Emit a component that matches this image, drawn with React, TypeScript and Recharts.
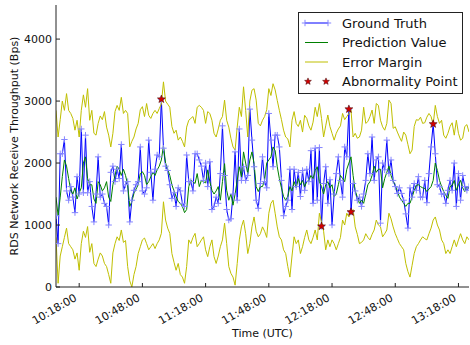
import React from "react";
import { ComposedChart, Line, XAxis, YAxis, Legend } from "recharts";

const FONT = "'DejaVu Sans', sans-serif";
const GT_COLOR = "#0000ff";
const GT_MARK = "#8585ff";
const PRED_COLOR = "#008000";
const MARGIN_COLOR = "#bfbf00";
const STAR_FILL = "#d40000";
const FRAME = "#222";

// one sample per minute starting here
const START_TIME = "10:07";
const X_TICKS = ["10:18:00", "10:48:00", "11:18:00", "11:48:00", "12:18:00", "12:48:00", "13:18:00"];
const Y_TICKS = [0, 1000, 2000, 3000, 4000];

const groundTruth = [
  1150, 700, 2150, 2150, 2380, 1550, 1400, 1620, 1450, 1200,
  1780, 1500, 2550, 1520, 2450, 1520, 1700, 1300, 1050, 1500,
  2100, 1450, 1500, 1350, 1300, 1000, 1850, 1950, 1700, 1900,
  1750, 2300, 1550, 1650, 1700, 1050, 1400, 1560, 1650, 1700,
  2260, 1550, 1500, 1600, 2370, 1850, 1400, 1900, 2130, 2100,
  3030, 2240, 1950, 1880, 1650, 1430, 1520, 1300, 1600, 1550,
  1350, 1300, 2130, 1700, 1700, 1550, 2150, 2150, 2050, 1950,
  1720, 2000, 1620, 2020, 1250, 1300, 1450, 1350, 1830, 2600,
  1800, 1250, 1080, 1100, 1500, 2180, 1400, 2550, 1720, 1940,
  1720, 1800, 2870, 2370, 1940, 1400, 1270, 1670, 2100, 1700,
  1600, 2800, 2370, 1940, 2450, 2450, 2260, 1720, 1150, 1300,
  1400, 1900, 1250, 1900, 1620, 1850, 1460, 1880, 1560, 1900,
  1700, 2200, 1350, 2240, 1400, 2250, 980, 1670, 1940, 1350,
  1730, 1000, 1500, 1830, 2100, 1720, 1450, 2260, 2100, 2870,
  1210, 1670, 1550, 1400, 1450, 1300, 1500, 1720, 2150, 1830,
  2420, 1720, 2050, 2100, 1030, 2000, 1890, 2370, 1830, 2050,
  1720, 1620, 1510, 1600, 1510, 1400, 1180, 950, 1600, 1450,
  1670, 1560, 1780, 1450, 1450, 1720, 1360, 1830, 2260, 2630,
  2150, 1650, 1620, 1500, 1500, 1350, 1560, 1720, 1560, 2000,
  1300, 1830, 1400, 1800, 1620, 1560, 1620,
];

const prediction = [
  1450, 1150, 1450, 1780, 2050, 1950, 1750, 1560, 1500, 1600,
  1420, 1520, 1600, 2000, 2100, 1750, 1650, 1650, 1420, 1350,
  1700, 1650, 1550, 1600, 1700, 1450, 1380, 1650, 1800, 1950,
  1900, 1800, 1900, 1800, 1650, 1300, 1380, 1510, 1580, 1650,
  1830, 1860, 1800, 1650, 1700, 1780, 1850, 1800, 1890, 1950,
  2050, 2280, 2000, 1900, 1800, 1650, 1550, 1460, 1380, 1350,
  1300, 1200, 1250, 1620, 1720, 1700, 1670, 1830, 1620, 1720,
  1700, 1680, 1890, 1700, 1560, 1500, 1550, 1620, 1400, 1700,
  1990, 1560, 1400, 1500, 1320, 1500, 1720, 1940, 1780, 2180,
  2000, 1830, 2050, 2180, 1990, 1620, 1540, 1620, 1620, 1725,
  2000, 2050, 2100, 2260, 2200, 1940, 1750, 1600, 1460, 1400,
  1460, 1620, 1550, 1700, 1600, 1750, 1650, 1720, 1620, 1700,
  1720, 1800, 1750, 1880, 1940, 1700, 1620, 1500, 1650, 1700,
  1600, 1650, 1460, 1500, 1650, 1800, 1750, 1700, 1900, 2000,
  2100, 1800, 1550, 1450, 1350, 1400, 1350, 1500, 1650, 1700,
  1800, 1950, 1850, 1900, 1900, 1600, 1750, 1850, 1950, 1800,
  1700, 1650, 1550, 1450, 1400, 1350, 1300, 1350, 1350, 1450,
  1560, 1640, 1650, 1620, 1600, 1590, 1540, 1580, 1620, 1720,
  2000, 1880, 1720, 1620, 1540, 1480, 1430, 1620, 1640, 1720,
  1560, 1650, 1720, 1600, 1540, 1620, 1590,
];

const upperMargin = [
  2850, 2420, 2700, 3000, 2850, 3120, 2850, 2800, 2720, 2530,
  2690, 2420, 2850, 3100, 2900, 3200, 2690, 2850, 2480, 2450,
  2640, 2760, 2700, 2830, 2580, 2450, 2260, 2480, 2830, 2930,
  2850, 3060, 2800, 2850, 2800, 2260, 2350, 2420, 2550, 2640,
  2860, 2910, 2750, 2960, 2770, 2720, 2800, 2850, 2800, 2880,
  2950, 3310, 3000, 2950, 2900, 2590, 2480, 2530, 2370, 2420,
  2350, 2260, 2580, 2690, 2720, 2750, 2640, 2900, 2930, 2900,
  2850, 2640, 2830, 2800, 2690, 2480, 2420, 2550, 2690, 2750,
  3015, 2690, 2580, 2400, 2260, 2210, 2580, 2900, 2750, 3230,
  2850, 2420, 3000, 3175, 3200, 3015, 2640, 2600, 2690, 2750,
  2860, 3200, 3090, 3280, 3180, 3010, 2850, 2700, 2530, 2420,
  2390, 2260, 2690, 2830, 2640, 2590, 2690, 2500, 2770, 2720,
  2600, 2530, 2660, 2900, 2750, 2960, 2720, 2420, 2600, 2775,
  2590, 2480, 2370, 2480, 2550, 2600, 2800, 2700, 2750, 2800,
  2850, 2420, 2480, 2400, 2420, 2530, 2900, 2640, 2670, 2750,
  2855, 2640, 2960, 2930, 2690, 2585, 2530, 2640, 3015, 2960,
  2560, 2585, 2500, 2420, 2350, 2500, 2450, 2300, 2150, 2210,
  2590, 2700, 2690, 2740, 2640, 2650, 2740, 2800, 2750, 2620,
  2930, 2750, 2640, 2690, 2450, 2400, 2480, 2590, 2650, 2450,
  2690, 2480, 2370, 2400, 2590, 2620, 2500,
];

const lowerMargin = [
  800, 60, 500, 650, 800, 950, 700, 650, 600, 450,
  550, 270, 700, 900, 800, 975, 560, 700, 380, 330,
  450, 550, 500, 380, 330, 200, 60, 550, 700, 810,
  750, 920, 720, 750, 330, 100, 0, 200, 330, 540,
  650, 760, 790, 700, 600, 650, 700, 620, 700, 760,
  865, 1375, 1080, 950, 865, 540, 400, 270, 380, 200,
  160, 60, 330, 760, 700, 800, 865, 650, 700, 760,
  810, 600, 490, 650, 760, 490, 380, 500, 650, 760,
  1030, 700, 330, 220, 160, 30, 380, 760, 970, 1080,
  860, 540, 700, 970, 1130, 900, 810, 860, 970, 900,
  800, 1190, 1350, 1400, 1190, 970, 810, 760, 600, 540,
  330, 160, 500, 810, 700, 760, 540, 650, 800, 920,
  760, 700, 800, 920, 760, 1190, 1050, 900, 600, 760,
  650, 760, 700, 600, 700, 800, 1080, 1000, 1190, 1130,
  1200, 1250, 970, 850, 700, 720, 760, 860, 800, 760,
  850, 920, 1080, 1000, 970, 810, 860, 920, 1190, 1100,
  970, 860, 780, 700, 650, 600, 380, 250, 160, 350,
  540, 650, 700, 760, 810, 780, 760, 860, 950, 1080,
  1130, 1000, 920, 760, 700, 540, 600, 540, 650, 760,
  650, 760, 860, 760, 700, 810, 760,
];

// indices of ground-truth samples flagged as abnormal
const ABNORMAL_IDX = [50, 126, 139, 140, 179];

const toMinutes = (s: string) => {
  const [h, m] = s.split(":").map(Number);
  return h * 60 + m;
};
const fmtTime = (m: number) => `${Math.floor(m / 60)}:${String(m % 60).padStart(2, "0")}:00`;

const t0 = toMinutes(START_TIME);
const rows = groundTruth.map((v, i) => ({
  t: t0 + i,
  truth: v,
  pred: prediction[i],
  upper: upperMargin[i],
  lower: lowerMargin[i],
  anomaly: ABNORMAL_IDX.includes(i) ? v : null,
}));
const xDomain = [t0, t0 + groundTruth.length - 1];
const xTicks = X_TICKS.map(toMinutes);

function starPath(cx: number, cy: number, r: number) {
  let d = "";
  for (let k = 0; k < 10; k++) {
    const rad = k % 2 ? r * 0.42 : r;
    const a = -Math.PI / 2 + (k * Math.PI) / 5;
    d += (k ? "L" : "M") + (cx + rad * Math.cos(a)).toFixed(2) + "," + (cy + rad * Math.sin(a)).toFixed(2);
  }
  return d + "Z";
}

const plusPath = (cx: number, cy: number, s: number) =>
  `M${cx - s},${cy}H${cx + s}M${cx},${cy - s}V${cy + s}`;

// eslint-disable-next-line @typescript-eslint/no-explicit-any
const PlusDot = (p: any) => {
  if (p.cx == null || p.cy == null) return <g key={`pd-${p.index}`} />;
  return <path key={`pd-${p.index}`} d={plusPath(p.cx, p.cy, 3.2)} stroke={GT_MARK} strokeWidth={1} fill="none" />;
};

// eslint-disable-next-line @typescript-eslint/no-explicit-any
const StarDot = (p: any) => {
  if (p.cx == null || p.cy == null || p.value == null) return <g key={`sd-${p.index}`} />;
  return <path key={`sd-${p.index}`} d={starPath(p.cx, p.cy, 4.2)} fill={STAR_FILL} stroke="#400000" strokeWidth={0.5} />;
};

// matplotlib-like ticks pointing into the plot
// eslint-disable-next-line @typescript-eslint/no-explicit-any
const BottomTick = ({ x, y, payload }: any) => (
  <g>
    <line x1={x} x2={x} y1={y} y2={y - 4} stroke={FRAME} />
    <text
      x={x - 1.5}
      y={y + 13}
      textAnchor="end"
      transform={`rotate(-30 ${x - 1.5} ${y + 13})`}
      fontSize={11}
      fontFamily={FONT}
      fill="#111"
    >
      {fmtTime(payload.value)}
    </text>
  </g>
);
// eslint-disable-next-line @typescript-eslint/no-explicit-any
const TopTick = ({ x, y }: any) => <line x1={x} x2={x} y1={y} y2={y + 4} stroke={FRAME} />;
// eslint-disable-next-line @typescript-eslint/no-explicit-any
const LeftTick = ({ x, y, payload }: any) => (
  <g>
    <line x1={x} x2={x + 4} y1={y} y2={y} stroke={FRAME} />
    <text x={x - 4} y={y + 4} textAnchor="end" fontSize={11} fontFamily={FONT} fill="#111">
      {payload.value}
    </text>
  </g>
);
// eslint-disable-next-line @typescript-eslint/no-explicit-any
const RightTick = ({ x, y }: any) => <line x1={x} x2={x - 4} y1={y} y2={y} stroke={FRAME} />;

// eslint-disable-next-line @typescript-eslint/no-explicit-any
const YTitle = (props: any) => {
  const vb = props.viewBox || { x: 0, y: 5, width: 56, height: 282 };
  const cx = vb.x + 18;
  const cy = vb.y + vb.height / 2;
  return (
    <text x={cx} y={cy} textAnchor="middle" transform={`rotate(-90 ${cx} ${cy})`} fontSize={11} fontFamily={FONT} fill="#111">
      RDS Network Receive Throughput (Bps)
    </text>
  );
};

// eslint-disable-next-line @typescript-eslint/no-explicit-any
const XTitle = (props: any) => {
  const vb = props.viewBox || { x: 56, y: 287, width: 413, height: 58 };
  return (
    <text x={vb.x + vb.width / 2} y={vb.y + vb.height - 8} textAnchor="middle" fontSize={11} fontFamily={FONT} fill="#111">
      Time (UTC)
    </text>
  );
};

const LEGEND_ITEMS = [
  { label: "Ground Truth", kind: "truth" },
  { label: "Prediction Value", kind: "pred" },
  { label: "Error Margin", kind: "margin" },
  { label: "Abnormality Point", kind: "star" },
];

const LegendBox = () => (
  <svg width={165} height={82} style={{ display: "block" }}>
    <rect x={0.5} y={0.5} width={164} height={81} fill="#fff" stroke={FRAME} />
    {LEGEND_ITEMS.map((it, i) => {
      const cy = 11 + i * 19.5;
      return (
        <g key={it.label}>
          {it.kind === "truth" && (
            <g>
              <line x1={7} x2={30} y1={cy} y2={cy} stroke={GT_COLOR} />
              <path d={plusPath(7, cy, 3.2) + plusPath(30, cy, 3.2)} stroke={GT_MARK} fill="none" />
            </g>
          )}
          {it.kind === "pred" && <line x1={7} x2={30} y1={cy} y2={cy} stroke={PRED_COLOR} />}
          {it.kind === "margin" && <line x1={7} x2={30} y1={cy} y2={cy} stroke={MARGIN_COLOR} />}
          {it.kind === "star" && (
            <path d={starPath(10, cy, 3.6) + starPath(28, cy, 3.6)} fill={STAR_FILL} stroke="#400000" strokeWidth={0.5} />
          )}
          <text x={44} y={cy + 4.5} fontSize={13} fontFamily={FONT} fill="#111">
            {it.label}
          </text>
        </g>
      );
    })}
  </svg>
);

export default function App() {
  return (
    <div style={{ position: "absolute", left: 0, top: 0, width: 470, height: 345, background: "#fff" }}>
      <ComposedChart width={470} height={345} data={rows} margin={{ top: 5, right: 1, bottom: 0, left: 0 }}>
        <XAxis
          xAxisId="b"
          type="number"
          dataKey="t"
          domain={xDomain}
          ticks={xTicks}
          interval={0}
          height={58}
          tickSize={0}
          tickMargin={0}
          tickLine={false}
          axisLine={{ stroke: FRAME }}
          tick={BottomTick}
          label={XTitle}
          allowDataOverflow
        />
        <XAxis
          xAxisId="t"
          orientation="top"
          type="number"
          dataKey="t"
          domain={xDomain}
          ticks={xTicks}
          interval={0}
          height={0}
          tickSize={0}
          tickMargin={0}
          tickLine={false}
          axisLine={{ stroke: FRAME }}
          tick={TopTick}
          allowDataOverflow
        />
        <YAxis
          yAxisId="l"
          type="number"
          domain={[0, 4550]}
          ticks={Y_TICKS}
          interval={0}
          width={56}
          tickSize={0}
          tickMargin={0}
          tickLine={false}
          axisLine={{ stroke: FRAME }}
          tick={LeftTick}
          label={YTitle}
          allowDataOverflow
        />
        <YAxis
          yAxisId="r"
          orientation="right"
          type="number"
          domain={[0, 4550]}
          ticks={Y_TICKS}
          interval={0}
          width={0}
          tickSize={0}
          tickMargin={0}
          tickLine={false}
          axisLine={{ stroke: FRAME }}
          tick={RightTick}
          allowDataOverflow
        />
        <Line xAxisId="b" yAxisId="l" dataKey="truth" type="linear" stroke={GT_COLOR} strokeWidth={1} dot={PlusDot} activeDot={false} isAnimationActive={false} />
        <Line xAxisId="b" yAxisId="l" dataKey="pred" type="linear" stroke={PRED_COLOR} strokeWidth={1} dot={false} activeDot={false} isAnimationActive={false} />
        <Line xAxisId="b" yAxisId="l" dataKey="upper" type="linear" stroke={MARGIN_COLOR} strokeWidth={1} dot={false} activeDot={false} isAnimationActive={false} />
        <Line xAxisId="b" yAxisId="l" dataKey="lower" type="linear" stroke={MARGIN_COLOR} strokeWidth={1} dot={false} activeDot={false} isAnimationActive={false} />
        <Line xAxisId="b" yAxisId="l" dataKey="anomaly" type="linear" stroke="none" dot={StarDot} activeDot={false} isAnimationActive={false} />
        <Legend
          layout="vertical"
          align="center"
          verticalAlign="middle"
          content={LegendBox}
          wrapperStyle={{ position: "absolute", left: 298, top: 12, width: 165, height: 82, bottom: "auto", right: "auto" }}
        />
      </ComposedChart>
    </div>
  );
}
